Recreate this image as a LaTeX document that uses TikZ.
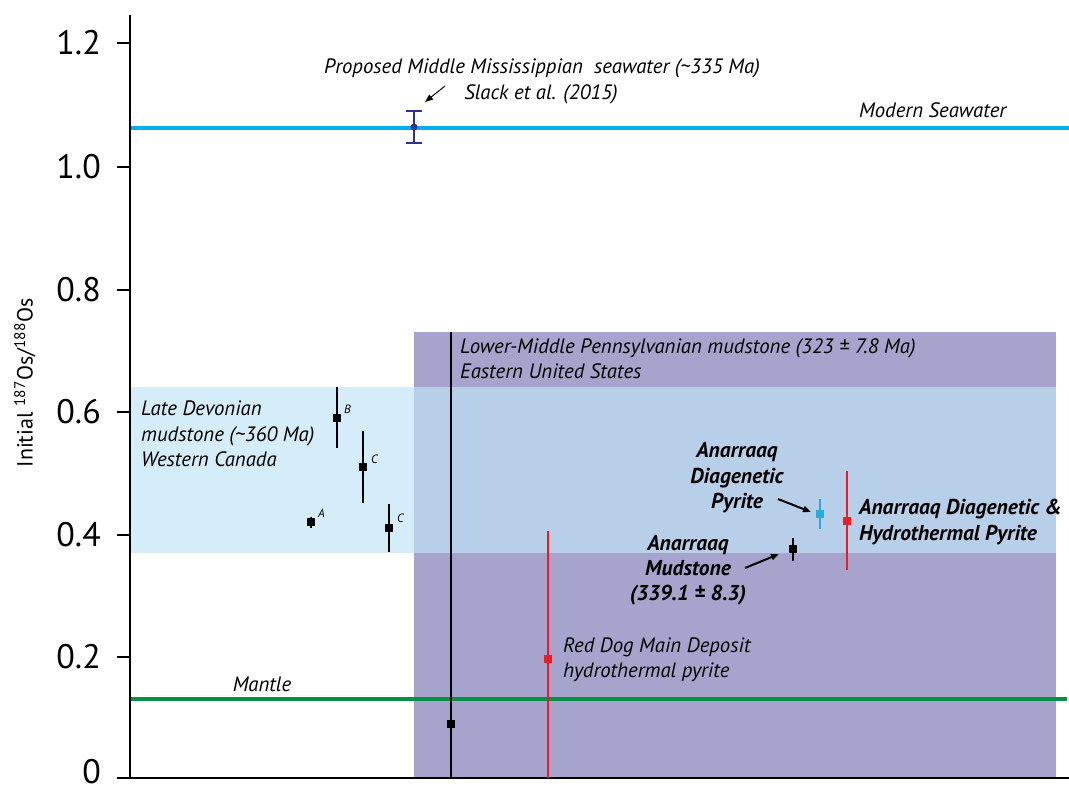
\documentclass[tikz,border=0pt]{standalone}
\usepackage{fontspec}
\setmainfont{PT Sans}
\usetikzlibrary{arrows.meta}
\definecolor{purp}{HTML}{A6A3CC}
\definecolor{lblue}{HTML}{D5EDFA}
\definecolor{overlapc}{HTML}{B8CFEA}
\definecolor{seablue}{HTML}{00AEEF}
\definecolor{mantlec}{HTML}{0A8F45}
\definecolor{rdred}{HTML}{ED1C24}
\definecolor{dblue}{HTML}{2E3192}
\definecolor{pblue}{HTML}{29ABE2}
\begin{document}
\begin{tikzpicture}[x=1pt,y=-1pt,
  lbl/.style={font=\itshape\fontsize{20.8}{24}\selectfont, inner sep=0pt},
  blbl/.style={font=\bfseries\itshape\fontsize{21.5}{24}\selectfont, inner sep=0pt},
  tiny/.style={font=\itshape\fontsize{12}{14}\selectfont, inner sep=0pt, anchor=west},
  ticklbl/.style={font=\fontsize{34}{36}\selectfont, inner sep=0pt, anchor=east},
  datapt/.style={fill=#1, inner sep=0pt, minimum size=8pt},
  ebar/.style={line width=2.6pt, draw=#1},
  thinbar/.style={line width=2pt, draw=#1},
  arr/.style={-{Triangle[length=8pt,width=6pt]}, line width=#1},
]
\useasboundingbox (0,0) rectangle (1069,790);
% backgrounds
\fill[purp] (414,332) rectangle (1056,778);
\fill[lblue] (130,387) rectangle (1056,553);
\fill[overlapc] (414,387) rectangle (1056,553);
% reference lines
\draw[seablue, line width=4pt] (130,128) -- (1069,128);
\draw[mantlec, line width=4pt] (130,699) -- (1067,699);
% axes
\draw[line width=2pt] (130,15) -- (130,779);
\draw[line width=2pt] (129,778) -- (1069,778);
\foreach \y/\t/\ly in {778/0/772, 657/0.2/657, 535/0.4/535, 412/0.6/412, 290/0.8/290, 167/1.0/167, 43/1.2/43}{
  \draw[line width=2pt] (117,\y) -- (130,\y);
  \node[ticklbl] (tick\t) at (101,\ly) {\t};
}
\node[rotate=90, font=\fontsize{22}{24}\selectfont, inner sep=0pt] (ylab) at (25,383)
  {Initial \textsuperscript{187}Os/\textsuperscript{188}Os};
% seawater proposed
\draw[thinbar=dblue] (414,111) -- (414,143);
\draw[thinbar=dblue] (406,111) -- (422,111);
\draw[thinbar=dblue] (406,143) -- (422,143);
\node[circle, fill=dblue, inner sep=0pt, minimum size=7pt] (msw) at (414,127) {};
\node[lbl, anchor=base] (prop1) at (542,73) {Proposed Middle Mississippian \ seawater (\textasciitilde335 Ma)};
\node[lbl, anchor=base] (prop2) at (541,99) {Slack et al. (2015)};
\coordinate (propA) at (445,86);
\coordinate (propB) at (425,102);
\draw[arr=1pt] (propA) -- (propB);
\node[lbl, anchor=base west] (modern) at (859,117) {Modern Seawater};
% Pennsylvanian
\draw[thinbar=black] (451,332) -- (451,778);
\node[datapt=black] (penn) at (451,724) {};
\node[lbl, anchor=base west] (penn1) at (460,353) {Lower-Middle Pennsylvanian mudstone (323 ± 7.8 Ma)};
\node[lbl, anchor=base west] (penn2) at (460,378) {Eastern United States};
% Devonian
\node[lbl, anchor=base west] (dev1) at (141,415) {Late Devonian};
\node[lbl, anchor=base west] (dev2) at (141,441) {mudstone (\textasciitilde360 Ma)};
\node[lbl, anchor=base west] (dev3) at (141,466) {Western Canada};
\draw[ebar=black] (311,517) -- (311,528);
\node[datapt=black] (A) at (311,522) {};
\node[tiny] (Al) at (318,513) {A};
\draw[ebar=black] (337,387) -- (337,448);
\node[datapt=black] (B) at (337,418) {};
\node[tiny] (Bl) at (344,409) {B};
\draw[ebar=black] (363,431) -- (363,503);
\node[datapt=black] (C1) at (363,467) {};
\node[tiny] (C1l) at (371,459) {C};
\draw[ebar=black] (389,504) -- (389,552);
\node[datapt=black] (C2) at (389,528) {};
\node[tiny] (C2l) at (397,518) {C};
% Red Dog
\draw[thinbar=rdred] (548,531) -- (548,778);
\node[datapt=rdred] (rd) at (548,659) {};
\node[lbl, anchor=base west] (rd1) at (563,652) {Red Dog Main Deposit};
\node[lbl, anchor=base west] (rd2) at (563,677) {hydrothermal pyrite};
% Mantle
\node[lbl, anchor=base] (mantle) at (262,691) {Mantle};
% Anarraaq
\draw[ebar=black] (793,538) -- (793,561);
\node[datapt=black] (mud) at (793,549) {};
\draw[ebar=pblue] (820,499) -- (820,529);
\node[datapt=pblue] (diag) at (820,514) {};
\draw[ebar=rdred] (847,471) -- (847,570);
\node[datapt=rdred] (hyd) at (847,521) {};
\node[blbl, anchor=base] (dg1) at (737,457) {Anarraaq};
\node[blbl, anchor=base] (dg2) at (737,483) {Diagenetic};
\node[blbl, anchor=base] (dg3) at (737,508) {Pyrite};
\coordinate (dgA) at (778,499);
\coordinate (dgB) at (811,512);
\draw[arr=2pt] (dgA) -- (dgB);
\node[blbl, anchor=base] (md1) at (688,550) {Anarraaq};
\node[blbl, anchor=base] (md2) at (688,575) {Mudstone};
\node[blbl, anchor=base] (md3) at (688,600) {(339.1 ± 8.3)};
\coordinate (mdA) at (745,568);
\coordinate (mdB) at (779,554);
\draw[arr=2pt] (mdA) -- (mdB);
\node[blbl, anchor=base west] (hy1) at (859,514) {Anarraaq Diagenetic \&};
\node[blbl, anchor=base west] (hy2) at (859,540) {Hydrothermal Pyrite};
\end{tikzpicture}
\end{document}
